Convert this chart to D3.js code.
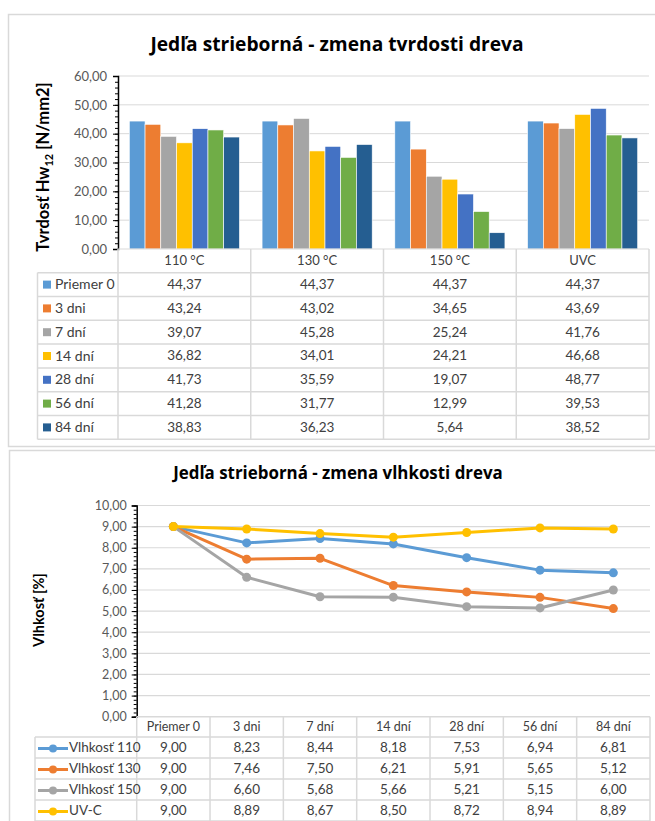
<!DOCTYPE html>
<html>
<head>
<meta charset="utf-8">
<script src="https://cdn.jsdelivr.net/npm/d3@7"></script>
<style>
  html, body { margin: 0; padding: 0; background: #fff; }
  svg { display: block; font-family: Lato, "Open Sans", sans-serif; }
</style>
</head>
<body>
<svg id="chart" width="655" height="821"></svg>
<script>
// ---- Hardness chart data ----
const treatments = ["110 °C", "130 °C", "150 °C", "UVC"];
const hardnessSeries = ["Priemer 0", "3 dni", "7 dní", "14 dní", "28 dní", "56 dní", "84 dní"];
const hPriemer0 = [44.37, 44.37, 44.37, 44.37];
const h3dni = [43.24, 43.02, 34.65, 43.69];
const h7dni = [39.07, 45.28, 25.24, 41.76];
const h14dni = [36.82, 34.01, 24.21, 46.68];
const h28dni = [41.73, 35.59, 19.07, 48.77];
const h56dni = [41.28, 31.77, 12.99, 39.53];
const h84dni = [38.83, 36.23, 5.64, 38.52];
const hardnessColors = ["#5B9BD5", "#ED7D31", "#A5A5A5", "#FFC000", "#4472C4", "#70AD47", "#255E91"];
const hardnessTicks = [0, 10, 20, 30, 40, 50, 60];

// ---- Moisture chart data ----
const days = ["Priemer 0", "3 dni", "7 dní", "14 dní", "28 dní", "56 dní", "84 dní"];
const moistureSeries = ["Vlhkosť 110", "Vlhkosť 130", "Vlhkosť 150", "UV-C"];
const vlhkost110 = [9.00, 8.23, 8.44, 8.18, 7.53, 6.94, 6.81];
const vlhkost130 = [9.00, 7.46, 7.50, 6.21, 5.91, 5.65, 5.12];
const vlhkost150 = [9.00, 6.60, 5.68, 5.66, 5.21, 5.15, 6.00];
const uvC = [9.00, 8.89, 8.67, 8.50, 8.72, 8.94, 8.89];
const moistureColors = ["#5B9BD5", "#ED7D31", "#A5A5A5", "#FFC000"];
const moistureTicks = [0, 1, 2, 3, 4, 5, 6, 7, 8, 9, 10];

const hardnessRows = [hPriemer0, h3dni, h7dni, h14dni, h28dni, h56dni, h84dni];
const moistureRows = [vlhkost110, vlhkost130, vlhkost150, uvC];

const locale = d3.formatLocale({ decimal: ",", thousands: " ", grouping: [3], currency: ["", ""] });
const fmt = locale.format(".2f");

const GRID = "#D9D9D9";
const TXT = "#404040";
const TICK = "#595959";
const TITLE_FONT = "'Open Sans', Lato, sans-serif";

const svg = d3.select("#chart");
svg.append("rect").attr("width", 655).attr("height", 821).attr("fill", "#fff");

// chart frames
svg.append("rect").attr("x", 8.5).attr("y", 14.5).attr("width", 660).attr("height", 432)
  .attr("fill", "none").attr("stroke", GRID).attr("stroke-width", 1.5);
svg.append("rect").attr("x", 9.5).attr("y", 450.5).attr("width", 660).attr("height", 400)
  .attr("fill", "none").attr("stroke", GRID).attr("stroke-width", 1.5);

// ================= Hardness (clustered bars + data table) =================
(function () {
  const left = 118, right = 649, top = 76, bottom = 249;
  const g = svg.append("g");

  g.append("text").attr("x", 337).attr("y", 51).attr("text-anchor", "middle")
    .attr("font-family", TITLE_FONT)
    .attr("font-size", 19.2).attr("font-weight", 700).attr("fill", "#000")
    .text("Jedľa strieborná - zmena tvrdosti dreva");

  const y = d3.scaleLinear().domain([0, 60]).range([bottom, top]);
  const x0 = d3.scaleBand().domain(treatments).range([left, right]);
  const x1 = d3.scaleBand().domain(hardnessSeries).range([0, x0.bandwidth()])
    .paddingInner(0).paddingOuter(0.72);

  // gridlines
  g.append("g").selectAll("line").data(hardnessTicks.slice(1)).join("line")
    .attr("x1", left).attr("x2", right)
    .attr("y1", d => y(d)).attr("y2", d => y(d))
    .attr("stroke", GRID).attr("stroke-width", 1);

  // bars
  hardnessSeries.forEach((s, si) => {
    g.append("g").selectAll("rect").data(hardnessRows[si]).join("rect")
      .attr("x", (d, i) => x0(treatments[i]) + x1(s))
      .attr("y", d => y(d))
      .attr("width", x1.bandwidth())
      .attr("height", d => y(0) - y(d))
      .attr("fill", hardnessColors[si])
      .attr("stroke", "#fff").attr("stroke-width", 0.6);
  });

  // minor ticks
  const minor = g.append("g").attr("transform", `translate(${left},0)`)
    .call(d3.axisLeft(y).tickValues(d3.range(0, 61, 2)).tickSize(3).tickFormat(""));
  minor.select(".domain").remove();
  minor.selectAll("line").attr("stroke", "#000");

  const axis = g.append("g").attr("transform", `translate(${left},0)`)
    .call(d3.axisLeft(y).tickValues(hardnessTicks).tickSize(5).tickPadding(6).tickFormat(fmt));
  axis.select(".domain").attr("stroke", "#000").attr("stroke-width", 1.5);
  axis.selectAll("line").attr("stroke", "#000");
  axis.selectAll("text").attr("font-size", 13).attr("fill", TICK).attr("font-family", "Lato, sans-serif");

  // y label
  const yl = g.append("text").attr("transform", "translate(49,167) rotate(-90)")
    .attr("text-anchor", "middle").attr("font-size", 16.5).attr("font-weight", 700).attr("fill", "#000");
  yl.append("tspan").text("Tvrdosť Hw");
  yl.append("tspan").attr("font-size", 11).attr("dy", 4).text("12");
  yl.append("tspan").attr("dy", -4).text(" [N/mm2]");

  // data table
  const tLeft = 37.5, headTop = 249, rowTop = 272.7, rowH = 23.8;
  const nRows = hardnessSeries.length;
  const tBottom = rowTop + rowH * nRows;
  const tg = g.append("g");
  // horizontal lines
  tg.append("line").attr("x1", left).attr("x2", right).attr("y1", headTop).attr("y2", headTop).attr("stroke", GRID);
  d3.range(nRows + 1).forEach(r => {
    tg.append("line").attr("x1", tLeft).attr("x2", right)
      .attr("y1", rowTop + r * rowH).attr("y2", rowTop + r * rowH).attr("stroke", GRID).attr("stroke-width", 1.5);
  });
  // vertical lines
  tg.append("line").attr("x1", tLeft).attr("x2", tLeft).attr("y1", rowTop).attr("y2", tBottom).attr("stroke", GRID).attr("stroke-width", 1.5);
  treatments.forEach(c => {
    tg.append("line").attr("x1", x0(c)).attr("x2", x0(c)).attr("y1", headTop).attr("y2", tBottom).attr("stroke", GRID).attr("stroke-width", 1.5);
  });
  tg.append("line").attr("x1", right).attr("x2", right).attr("y1", headTop).attr("y2", tBottom).attr("stroke", GRID).attr("stroke-width", 1.5);

  // header text
  tg.selectAll("text.h").data(treatments).join("text")
    .attr("x", d => x0(d) + x0.bandwidth() / 2).attr("y", (headTop + rowTop) / 2 + 1)
    .attr("text-anchor", "middle").attr("dominant-baseline", "middle")
    .attr("font-size", 13).attr("fill", TXT).text(d => d);

  hardnessSeries.forEach((s, si) => {
    const cy = rowTop + si * rowH + rowH / 2 + 1;
    tg.append("rect").attr("x", 43).attr("y", cy - 5).attr("width", 8).attr("height", 8).attr("fill", hardnessColors[si]);
    tg.append("text").attr("x", 55).attr("y", cy).attr("dominant-baseline", "middle")
      .attr("font-size", 14).attr("fill", TXT).text(s);
    hardnessRows[si].forEach((v, i) => {
      tg.append("text").attr("x", x0(treatments[i]) + x0.bandwidth() / 2).attr("y", cy)
        .attr("text-anchor", "middle").attr("dominant-baseline", "middle")
        .attr("font-size", 13.5).attr("fill", TXT).text(fmt(v));
    });
  });
})();

// ================= Moisture (lines with markers + data table) =================
(function () {
  const left = 136.7, right = 650, top = 505.5, bottom = 716.7;
  const g = svg.append("g");

  g.append("text").attr("x", 338).attr("y", 479).attr("text-anchor", "middle")
    .attr("font-family", TITLE_FONT)
    .attr("font-size", 16.9).attr("font-weight", 700).attr("fill", "#000")
    .text("Jedľa strieborná - zmena vlhkosti dreva");

  const y = d3.scaleLinear().domain([0, 10]).range([bottom, top]);
  const x = d3.scaleBand().domain(days).range([left, right]);
  const cx = d => x(d) + x.bandwidth() / 2;

  g.append("g").selectAll("line").data(moistureTicks.slice(1)).join("line")
    .attr("x1", left).attr("x2", right)
    .attr("y1", d => y(d)).attr("y2", d => y(d))
    .attr("stroke", GRID).attr("stroke-width", 1.2);

  const minor = g.append("g").attr("transform", `translate(${left},0)`)
    .call(d3.axisLeft(y).tickValues(d3.range(0, 50.5, 1).map(v => v / 5)).tickSize(3).tickFormat(""));
  minor.select(".domain").remove();
  minor.selectAll("line").attr("stroke", "#000");

  const axis = g.append("g").attr("transform", `translate(${left},0)`)
    .call(d3.axisLeft(y).tickValues(moistureTicks).tickSize(5).tickPadding(5).tickFormat(fmt));
  axis.select(".domain").attr("stroke", "#000").attr("stroke-width", 1.5);
  axis.selectAll("line").attr("stroke", "#000");
  axis.selectAll("text").attr("font-size", 12.5).attr("fill", TICK).attr("font-family", "Lato, sans-serif");

  g.append("text").attr("transform", "translate(44,610) rotate(-90)")
    .attr("text-anchor", "middle").attr("font-size", 14.5).attr("font-weight", 700).attr("fill", "#000")
    .text("Vlhkosť [%]");

  const line = d3.line().x((d, i) => cx(days[i])).y(d => y(d));
  moistureSeries.forEach((s, si) => {
    const sg = g.append("g");
    sg.append("path").datum(moistureRows[si]).attr("d", line)
      .attr("fill", "none").attr("stroke", moistureColors[si]).attr("stroke-width", 3)
      .attr("stroke-linejoin", "round").attr("stroke-linecap", "round");
    sg.selectAll("circle").data(moistureRows[si]).join("circle")
      .attr("cx", (d, i) => cx(days[i])).attr("cy", d => y(d)).attr("r", 4.5)
      .attr("fill", moistureColors[si]);
  });

  // data table
  const tLeft = 35, headTop = bottom, rowTop = 737, rowH = 21;
  const nRows = moistureSeries.length;
  const tBottom = rowTop + rowH * nRows;
  const tg = g.append("g");
  tg.append("line").attr("x1", left).attr("x2", right).attr("y1", headTop).attr("y2", headTop).attr("stroke", GRID).attr("stroke-width", 1.5);
  d3.range(nRows + 1).forEach(r => {
    tg.append("line").attr("x1", tLeft).attr("x2", right)
      .attr("y1", rowTop + r * rowH).attr("y2", rowTop + r * rowH).attr("stroke", GRID).attr("stroke-width", 1.5);
  });
  tg.append("line").attr("x1", tLeft).attr("x2", tLeft).attr("y1", rowTop).attr("y2", tBottom).attr("stroke", GRID).attr("stroke-width", 1.5);
  days.forEach(c => {
    tg.append("line").attr("x1", x(c)).attr("x2", x(c)).attr("y1", headTop).attr("y2", tBottom).attr("stroke", GRID).attr("stroke-width", 1.5);
  });
  tg.append("line").attr("x1", right).attr("x2", right).attr("y1", headTop).attr("y2", tBottom).attr("stroke", GRID).attr("stroke-width", 1.5);

  tg.selectAll("text.h").data(days).join("text")
    .attr("x", d => cx(d)).attr("y", (headTop + rowTop) / 2 + 1)
    .attr("text-anchor", "middle").attr("dominant-baseline", "middle")
    .attr("font-size", 12.5).attr("fill", TXT).text(d => d);

  moistureSeries.forEach((s, si) => {
    const cy = rowTop + si * rowH + rowH / 2 + 1;
    tg.append("line").attr("x1", 38).attr("x2", 68).attr("y1", cy).attr("y2", cy)
      .attr("stroke", moistureColors[si]).attr("stroke-width", 3);
    tg.append("circle").attr("cx", 53).attr("cy", cy).attr("r", 4).attr("fill", moistureColors[si]);
    tg.append("text").attr("x", 69).attr("y", cy).attr("dominant-baseline", "middle")
      .attr("font-size", 13.5).attr("fill", TXT).text(s);
    moistureRows[si].forEach((v, i) => {
      tg.append("text").attr("x", cx(days[i])).attr("y", cy)
        .attr("text-anchor", "middle").attr("dominant-baseline", "middle")
        .attr("font-size", 13.5).attr("fill", TXT).text(fmt(v));
    });
  });
})();
</script>
</body>
</html>
